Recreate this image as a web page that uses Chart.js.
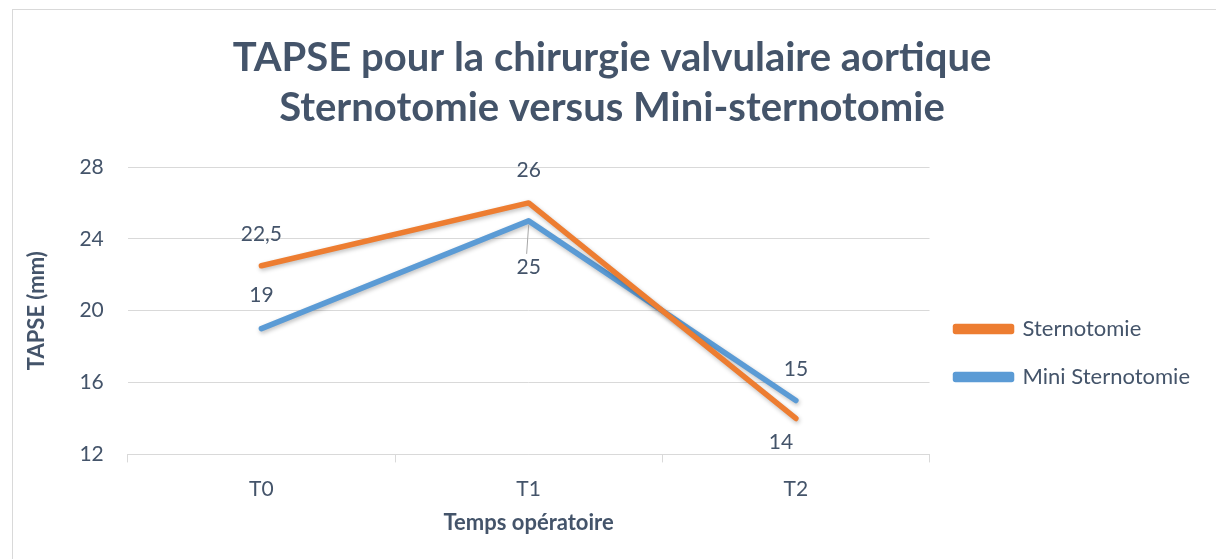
<!DOCTYPE html>
<html>
    <head>
        <meta charset="UTF-8">
        <title>TAPSE</title>
        <script src="https://cdn.jsdelivr.net/npm/chart.js"></script>
        <style>
            html, body { margin: 0; padding: 0; background: #ffffff; }
            .frame {
                position: absolute; left: 12px; top: 9px;
                width: 1210px; height: 560px;
                border: 1px solid #D9D9D9;
                box-sizing: border-box;
            }
            .chart_box { position: absolute; left: 0; top: 0; width: 1216px; height: 559px; }
        </style>
    </head>
    <body>
        <div class="frame"></div>
        <div class="chart_box">
            <canvas id="tapse_chart"></canvas>
        </div>

    <script>
//                                                              DATA
//---------------------------------------------------------------------------------------------------------------------------------------------------------
    const categories = ['T0', 'T1', 'T2'];
    const sternotomie = [22.5, 26, 14];
    const mini_sternotomie = [19, 25, 15];
    const y_ticks = [12, 16, 20, 24, 28];

    const text_colour = '#44546A';
    const grid_colour = '#D9D9D9';
    const font_family = 'Lato, "Open Sans", sans-serif';

    //label placement per dataset / point: negative = above the point
    const label_offsets = [
        [-32, -33, 24],
        [-33, 46, -31]
    ];
    const label_dx = [
        [0, 0, -15],
        [0, 0, 0]
    ];

//                                                              DATA LABELS + SHADOW
//---------------------------------------------------------------------------------------------------------------------------------------------------------
    const lineShadow = {
        id: 'lineShadow',
        beforeDatasetDraw(chart) {
            const ctx = chart.ctx;
            ctx.save();
            ctx.shadowColor = 'rgba(0,0,0,0.25)';
            ctx.shadowBlur = 4;
            ctx.shadowOffsetX = 1;
            ctx.shadowOffsetY = 2;
        },
        afterDatasetDraw(chart) {
            chart.ctx.restore();
        }
    };

    const pointLabels = {
        id: 'pointLabels',
        afterDatasetsDraw(chart) {
            const ctx = chart.ctx;
            ctx.save();
            ctx.font = '21px ' + font_family;
            ctx.fillStyle = text_colour;
            ctx.textAlign = 'center';
            ctx.textBaseline = 'middle';
            chart.data.datasets.forEach((ds, i) => {
                chart.getDatasetMeta(i).data.forEach((pt, j) => {
                    const txt = String(ds.data[j]).replace('.', ',');
                    const lx = pt.x + label_dx[i][j];
                    const ly = pt.y + label_offsets[i][j];
                    // leader line for the "25" label
                    if (i === 1 && j === 1) {
                        ctx.strokeStyle = '#A6A6A6';
                        ctx.lineWidth = 1;
                        ctx.beginPath();
                        ctx.moveTo(pt.x, pt.y + 4);
                        ctx.lineTo(pt.x - 2, ly - 13);
                        ctx.stroke();
                    }
                    ctx.fillText(txt, lx, ly);
                });
            });
            ctx.restore();
        }
    };

//                                                              CHART
//---------------------------------------------------------------------------------------------------------------------------------------------------------
    const chart_location = document.getElementById('tapse_chart');
    const tapse_chart = new Chart(chart_location, {
        type: 'line',
        data: {
            labels: categories,
            datasets: [
                {
                    label: 'Sternotomie',
                    data: sternotomie,
                    borderColor: '#ED7D31',
                    backgroundColor: '#ED7D31',
                    borderWidth: 5.5,
                    pointRadius: 0,
                    borderCapStyle: 'round',
                    borderJoinStyle: 'round',
                    tension: 0,
                },
                {
                    label: 'Mini Sternotomie',
                    data: mini_sternotomie,
                    borderColor: '#5B9BD5',
                    backgroundColor: '#5B9BD5',
                    borderWidth: 5.5,
                    pointRadius: 0,
                    borderCapStyle: 'round',
                    borderJoinStyle: 'round',
                    tension: 0,
                },
            ],
        },
        options: {
            responsive: true,
            maintainAspectRatio: false,
            animation: false,
            layout: {
                padding: { top: 33, right: 16, bottom: 23, left: 24 },
            },
            plugins: {
                title: {
                    display: true,
                    text: ['TAPSE pour la chirurgie valvulaire aortique', 'Sternotomie versus Mini-sternotomie'],
                    color: text_colour,
                    font: { family: font_family, size: 40, weight: 'bold', lineHeight: 1.25 },
                    padding: { top: 0, bottom: 34 },
                },
                legend: {
                    position: 'right',
                    align: 'start',
                    title: {
                        display: true,
                        text: ' ',
                        font: { size: 10 },
                        padding: { top: 247, bottom: 0 },
                    },
                    labels: {
                        color: text_colour,
                        font: { family: font_family, size: 22 },
                        boxWidth: 56,
                        boxHeight: 5,
                        padding: 26,
                    },
                },
                tooltip: { enabled: false },
            },
            scales: {
                x: {
                    offset: true,
                    border: { display: true, color: grid_colour, width: 1 },
                    grid: {
                        display: true,
                        offset: true,
                        drawOnChartArea: false,
                        drawTicks: true,
                        tickLength: 8,
                        color: grid_colour,
                    },
                    ticks: {
                        color: text_colour,
                        font: { family: font_family, size: 21 },
                        padding: 14,
                    },
                    title: {
                        display: true,
                        text: 'Temps opératoire',
                        color: text_colour,
                        font: { family: font_family, size: 22, weight: 'bold' },
                        padding: { top: -6, bottom: 0 },
                    },
                },
                y: {
                    min: y_ticks[0],
                    max: y_ticks[y_ticks.length - 1],
                    afterBuildTicks: (axis) => { axis.ticks = y_ticks.map(v => ({ value: v })); },
                    border: { display: false },
                    grid: {
                        color: grid_colour,
                        drawTicks: false,
                    },
                    ticks: {
                        color: text_colour,
                        font: { family: font_family, size: 21 },
                        padding: 24,
                    },
                    title: {
                        display: true,
                        text: 'TAPSE (mm)',
                        color: text_colour,
                        font: { family: font_family, size: 22, weight: 'bold' },
                        padding: { top: 0, bottom: 5 },
                    },
                },
            },
        },
        plugins: [lineShadow, pointLabels],
    });
//                                                              END OF SCRIPT
//---------------------------------------------------------------------------------------------------------------------------------------------------------
    </script>
    </body>
</html>
